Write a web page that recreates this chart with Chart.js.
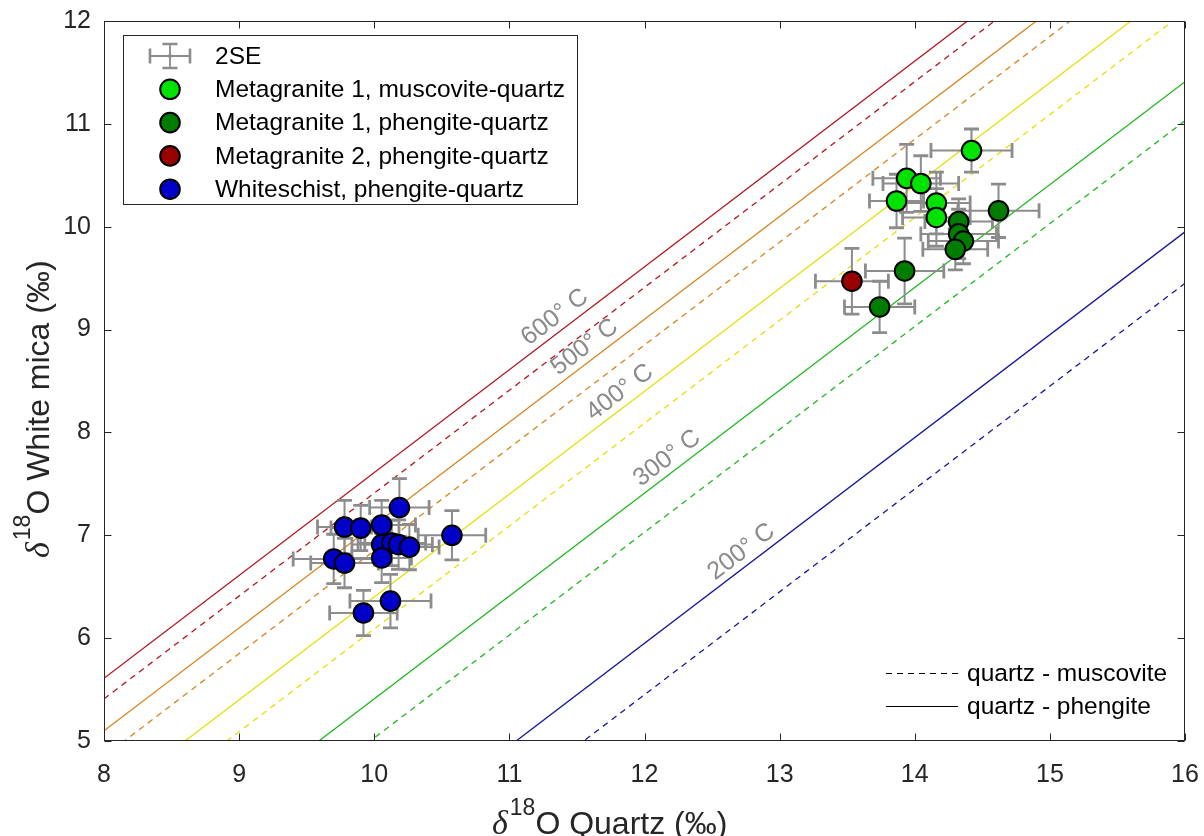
<!DOCTYPE html>
<html><head><meta charset="utf-8">
<script src="https://cdn.jsdelivr.net/npm/chart.js@4.4.0/dist/chart.umd.min.js"></script>
<style>html,body{margin:0;padding:0;background:#fff;overflow:hidden;}#wrap{width:1204px;height:836px;position:relative;}</style>
</head><body><div id="wrap"><canvas id="c"></canvas></div>
<script>
// ---------- data ----------
const xTicks = [8, 9, 10, 11, 12, 13, 14, 15, 16];
const yTicks = [5, 6, 7, 8, 9, 10, 11, 12];

const seriesNames = ['Metagranite 1, muscovite-quartz', 'Metagranite 1, phengite-quartz',
                     'Metagranite 2, phengite-quartz', 'Whiteschist, phengite-quartz'];
const seriesColors = ['#00e300', '#007d00', '#990000', '#0000c8'];

const mg1MusX    = [14.42, 13.94, 14.045, 13.865, 14.16, 14.16];
const mg1MusY    = [10.74, 10.47, 10.42, 10.25, 10.23, 10.09];
const mg1MusXErr = [0.30, 0.25, 0.28, 0.20, 0.25, 0.25];
const mg1MusYErr = [0.21, 0.33, 0.27, 0.26, 0.30, 0.28];

const mg1PhX    = [14.62, 14.325, 14.325, 14.36, 14.30, 13.925, 13.74];
const mg1PhY    = [10.155, 10.05, 9.93, 9.86, 9.78, 9.57, 9.22];
const mg1PhXErr = [0.30, 0.25, 0.28, 0.26, 0.24, 0.29, 0.26];
const mg1PhYErr = [0.26, 0.22, 0.24, 0.22, 0.20, 0.32, 0.25];

const mg2PhX    = [13.535];
const mg2PhY    = [9.47];
const mg2PhXErr = [0.27];
const mg2PhYErr = [0.32];

const wsX    = [10.186, 9.78, 9.90, 10.055, 10.575, 10.055, 10.13, 10.18, 10.26, 9.70, 9.78, 10.055, 10.12, 9.92];
const wsY    = [7.27, 7.08, 7.07, 7.10, 7.00, 6.91, 6.925, 6.91, 6.885, 6.77, 6.73, 6.78, 6.36, 6.245];
const wsXErr = [0.22, 0.20, 0.22, 0.25, 0.25, 0.22, 0.25, 0.25, 0.22, 0.30, 0.25, 0.22, 0.30, 0.25];
const wsYErr = [0.28, 0.26, 0.22, 0.24, 0.24, 0.20, 0.22, 0.24, 0.22, 0.24, 0.24, 0.24, 0.26, 0.22];

// isotherms: offset = d18O(quartz) - d18O(mica)
const isoTemps = [600, 500, 400, 300, 200];
const isoColors = ['#b3161c', '#d8841e', '#e6df0a', '#1fb81f', '#17179c'];
const phengiteOffset  = [2.39, 2.90, 3.60, 4.59, 6.05];
const muscoviteOffset = [2.59, 3.15, 3.91, 4.97, 6.55];
const isoLabelX = [11.40, 11.62, 11.88, 12.23, 12.78];

const xMin = 8, xMax = 16, yMin = 5, yMax = 12;

// ---------- build datasets ----------
function pts(xs, ys) { return xs.map((v, i) => ({x: v, y: ys[i]})); }
const series = [
  {x: mg1MusX, y: mg1MusY, xe: mg1MusXErr, ye: mg1MusYErr},
  {x: mg1PhX, y: mg1PhY, xe: mg1PhXErr, ye: mg1PhYErr},
  {x: mg2PhX, y: mg2PhY, xe: mg2PhXErr, ye: mg2PhYErr},
  {x: wsX, y: wsY, xe: wsXErr, ye: wsYErr}
];
const datasets = [];
series.forEach((s, i) => {
  datasets.push({
    _kind: 'pts', label: seriesNames[i], data: pts(s.x, s.y),
    backgroundColor: seriesColors[i], borderColor: '#000', borderWidth: 2,
    pointRadius: 9.8, pointHoverRadius: 9.8, order: 1
  });
});
isoTemps.forEach((t, i) => {
  [[phengiteOffset[i], []], [muscoviteOffset[i], [6, 5]]].forEach(([off, dash]) => {
    datasets.push({
      _kind: 'iso', label: t + '', showLine: true, pointRadius: 0,
      data: [{x: xMin, y: xMin - off}, {x: xMax, y: xMax - off}],
      borderColor: isoColors[i], borderWidth: 1.3, borderDash: dash, fill: false, order: 2
    });
  });
});

const SANS = "'Liberation Sans', Arial, Helvetica, sans-serif";

function drawErrorBars(chart) {
  const ctx = chart.ctx, xs = chart.scales.x, ys = chart.scales.y;
  ctx.save();
  ctx.strokeStyle = '#8c8c8c';
  const cap = 7.5;
  series.forEach(s => {
    s.x.forEach((xv, i) => {
      const yv = s.y[i];
      const px = xs.getPixelForValue(xv), py = ys.getPixelForValue(yv);
      const xl = xs.getPixelForValue(xv - s.xe[i]), xr = xs.getPixelForValue(xv + s.xe[i]);
      const yt = ys.getPixelForValue(yv + s.ye[i]), yb = ys.getPixelForValue(yv - s.ye[i]);
      ctx.lineWidth = 2;
      ctx.beginPath();
      ctx.moveTo(xl, py); ctx.lineTo(xr, py);
      ctx.moveTo(px, yt); ctx.lineTo(px, yb);
      ctx.stroke();
      ctx.lineWidth = 2.8;
      ctx.beginPath();
      ctx.moveTo(xl, py - cap); ctx.lineTo(xl, py + cap);
      ctx.moveTo(xr, py - cap); ctx.lineTo(xr, py + cap);
      ctx.moveTo(px - cap, yt); ctx.lineTo(px + cap, yt);
      ctx.moveTo(px - cap, yb); ctx.lineTo(px + cap, yb);
      ctx.stroke();
    });
  });
  ctx.restore();
}

function drawSegments(ctx, segs) {
  let x = 0;
  segs.forEach(s => {
    ctx.font = s.font;
    ctx.fillText(s.text, x + (s.dx || 0), s.dy || 0);
    x += ctx.measureText(s.text).width + (s.dx || 0);
  });
}

const customPlugin = {
  id: 'custom',
  beforeDatasetsDraw(chart) { chart._ebDone = false; },
  beforeDatasetDraw(chart, args) {
    const ds = chart.data.datasets[args.index];
    if (ds._kind === 'pts' && !chart._ebDone) { drawErrorBars(chart); chart._ebDone = true; }
  },
  afterDraw(chart) {
    const ctx = chart.ctx, a = chart.chartArea, xs = chart.scales.x, ys = chart.scales.y;
    ctx.save();
    // frame + inward ticks
    ctx.strokeStyle = '#262626'; ctx.lineWidth = 1;
    const L = Math.round(a.left) + 0.5, R = Math.round(a.right) - 0.5, T = Math.round(a.top) + 0.5, B = Math.round(a.bottom) - 0.5;
    ctx.strokeRect(L, T, R - L, B - T);
    ctx.beginPath();
    xTicks.forEach(v => {
      const p = Math.round(xs.getPixelForValue(v)) + 0.5;
      ctx.moveTo(p, B); ctx.lineTo(p, B - 7);
      ctx.moveTo(p, T); ctx.lineTo(p, T + 7);
    });
    yTicks.forEach(v => {
      const p = Math.round(ys.getPixelForValue(v)) + 0.5;
      ctx.moveTo(L, p); ctx.lineTo(L + 7, p);
      ctx.moveTo(R, p); ctx.lineTo(R - 7, p);
    });
    ctx.stroke();

    // isotherm labels
    ctx.fillStyle = '#8a8a8a';
    ctx.font = '25px ' + SANS;
    ctx.textAlign = 'center'; ctx.textBaseline = 'middle';
    isoTemps.forEach((t, i) => {
      const off = phengiteOffset[i], lx = isoLabelX[i];
      const p1x = xs.getPixelForValue(xMin), p1y = ys.getPixelForValue(xMin - off);
      const p2x = xs.getPixelForValue(xMax), p2y = ys.getPixelForValue(xMax - off);
      const ang = Math.atan2(p2y - p1y, p2x - p1x);
      const ax = xs.getPixelForValue(lx), ay = ys.getPixelForValue(lx - off);
      const d = 14;
      const cx = ax + Math.sin(ang) * d, cy = ay - Math.cos(ang) * d;
      ctx.save();
      ctx.translate(cx, cy); ctx.rotate(ang);
      ctx.fillText(t + '° C', 0, 0);
      ctx.restore();
    });

    // main legend
    const lgL = 123, lgT = 35, lgR = 577, lgB = 204;
    ctx.fillStyle = '#fff';
    ctx.fillRect(lgL, lgT, lgR - lgL, lgB - lgT);
    ctx.strokeStyle = '#262626'; ctx.lineWidth = 1;
    ctx.strokeRect(lgL + 0.5, lgT + 0.5, lgR - lgL, lgB - lgT);
    const rowY = [56, 89.3, 122.6, 155.9, 189.2];
    const icx = 170;
    // 2SE icon
    ctx.strokeStyle = '#8c8c8c';
    ctx.lineWidth = 1.8;
    ctx.beginPath();
    ctx.moveTo(150, rowY[0]); ctx.lineTo(190, rowY[0]);
    ctx.moveTo(icx, rowY[0] - 12); ctx.lineTo(icx, rowY[0] + 12);
    ctx.stroke();
    ctx.lineWidth = 2.6;
    ctx.beginPath();
    ctx.moveTo(150, rowY[0] - 7.5); ctx.lineTo(150, rowY[0] + 7.5);
    ctx.moveTo(190, rowY[0] - 7.5); ctx.lineTo(190, rowY[0] + 7.5);
    ctx.moveTo(icx - 7.5, rowY[0] - 12); ctx.lineTo(icx + 7.5, rowY[0] - 12);
    ctx.moveTo(icx - 7.5, rowY[0] + 12); ctx.lineTo(icx + 7.5, rowY[0] + 12);
    ctx.stroke();
    ctx.fillStyle = '#8c8c8c';
    ctx.beginPath(); ctx.arc(icx, rowY[0], 2, 0, Math.PI * 2); ctx.fill();
    ctx.textAlign = 'left'; ctx.textBaseline = 'middle';
    ctx.font = '24.5px ' + SANS;
    ctx.fillStyle = '#000';
    ctx.fillText('2SE', 215, rowY[0] + 1);
    seriesNames.forEach((n, i) => {
      const y = rowY[i + 1];
      ctx.beginPath(); ctx.arc(icx, y, 9.8, 0, Math.PI * 2);
      ctx.fillStyle = seriesColors[i]; ctx.fill();
      ctx.lineWidth = 2; ctx.strokeStyle = '#000'; ctx.stroke();
      ctx.fillStyle = '#000';
      ctx.fillText(n, 215, y + 1);
    });

    // line-style legend
    ctx.strokeStyle = '#000'; ctx.lineWidth = 1;
    ctx.setLineDash([6, 5]);
    ctx.beginPath(); ctx.moveTo(886, 673.5); ctx.lineTo(958, 673.5); ctx.stroke();
    ctx.setLineDash([]);
    ctx.beginPath(); ctx.moveTo(886, 706.5); ctx.lineTo(958, 706.5); ctx.stroke();
    ctx.fillStyle = '#000';
    ctx.fillText('quartz - muscovite', 967, 674);
    ctx.fillText('quartz - phengite', 967, 707);

    // axis titles
    ctx.fillStyle = '#262626';
    ctx.textAlign = 'left'; ctx.textBaseline = 'alphabetic';
    const dFont = 'italic 34px "Liberation Serif", "Times New Roman", serif';
    const supFont = '23px ' + SANS;
    const tFont = '32px ' + SANS;
    ctx.save();
    ctx.translate(492, 834);
    drawSegments(ctx, [{text: 'δ', font: dFont}, {text: '18', font: supFont, dy: -19, dx: 2}, {text: 'O Quartz (‰)', font: tFont, dx: 0}]);
    ctx.restore();
    ctx.save();
    ctx.translate(49, 558);
    ctx.rotate(-Math.PI / 2);
    drawSegments(ctx, [{text: 'δ', font: dFont}, {text: '18', font: supFont, dy: -19, dx: 2}, {text: 'O White mica (‰)', font: tFont, dx: 0}]);
    ctx.restore();
    ctx.restore();
  }
};

const tickFont = {family: SANS, size: 25};
new Chart(document.getElementById('c'), {
  type: 'scatter',
  data: {datasets},
  options: {
    responsive: true, maintainAspectRatio: false, animation: false, events: [],
    layout: {padding: {left: 0, right: 19, top: 21, bottom: 0}},
    plugins: {legend: {display: false}, tooltip: {enabled: false}},
    scales: {
      x: {
        type: 'linear', min: xMin, max: xMax,
        afterBuildTicks: s => { s.ticks = xTicks.map(v => ({value: v})); },
        afterFit: s => { s.height = 95; s.paddingLeft = 0; s.paddingRight = 0; },
        grid: {display: false, drawTicks: false}, border: {display: false},
        ticks: {font: tickFont, color: '#262626', padding: 19, maxRotation: 0, autoSkip: false}
      },
      y: {
        type: 'linear', min: yMin, max: yMax,
        afterBuildTicks: s => { s.ticks = yTicks.map(v => ({value: v})); },
        afterFit: s => { s.width = 104; s.paddingTop = 0; s.paddingBottom = 0; },
        grid: {display: false, drawTicks: false}, border: {display: false},
        ticks: {font: tickFont, color: '#262626', padding: 13, autoSkip: false}
      }
    }
  },
  plugins: [customPlugin]
});
</script></body></html>
